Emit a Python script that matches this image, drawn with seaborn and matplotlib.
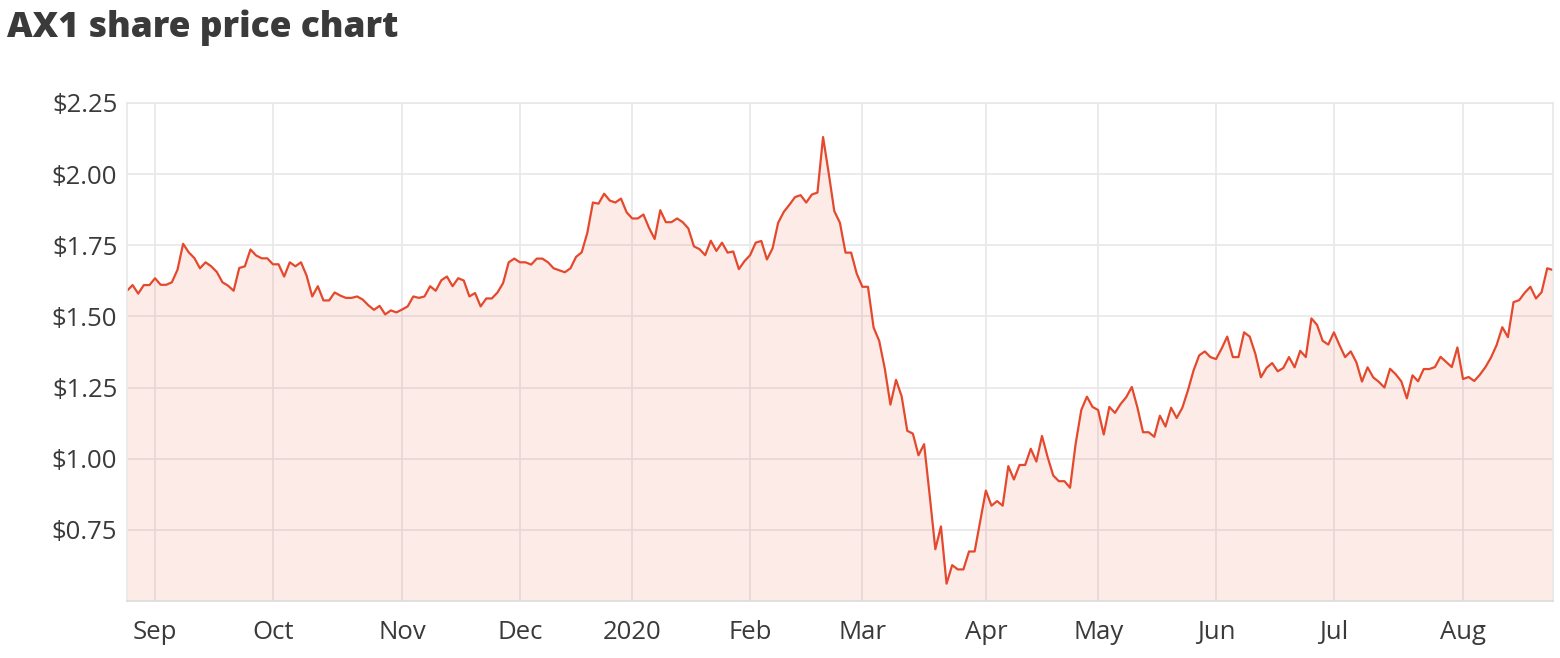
import numpy as np
import pandas as pd
import seaborn as sns
import matplotlib.pyplot as plt

# daily closing prices (AUD), one list per month, trading days only
aug19 = [1.59, 1.61, 1.58, 1.61, 1.61]
sep19 = [1.634, 1.611, 1.611, 1.62, 1.664, 1.755, 1.725, 1.705, 1.669, 1.69, 1.676,
         1.656, 1.62, 1.608, 1.59, 1.67, 1.676, 1.735, 1.714, 1.704, 1.704]
oct19 = [1.683, 1.683, 1.64, 1.69, 1.676, 1.69, 1.643, 1.57, 1.606, 1.556, 1.556, 1.584,
         1.573, 1.565, 1.565, 1.57, 1.559, 1.539, 1.523, 1.537, 1.507, 1.521, 1.514]
nov19 = [1.524, 1.535, 1.57, 1.565, 1.57, 1.606, 1.59, 1.627, 1.64, 1.606, 1.634,
         1.626, 1.57, 1.582, 1.535, 1.563, 1.563, 1.584, 1.617, 1.69, 1.703]
dec19 = [1.69, 1.69, 1.682, 1.703, 1.703, 1.69, 1.669, 1.662, 1.655, 1.669,
         1.709, 1.725, 1.793, 1.90, 1.896, 1.931, 1.907, 1.90, 1.914, 1.866]
jan20 = [1.844, 1.844, 1.858, 1.811, 1.772, 1.873, 1.831, 1.831, 1.844, 1.831, 1.809,
         1.746, 1.736, 1.715, 1.766, 1.73, 1.759, 1.724, 1.728, 1.666, 1.694]
feb20 = [1.715, 1.759, 1.765, 1.70, 1.739, 1.829, 1.867, 1.892, 1.919, 1.926,
         1.90, 1.928, 1.935, 2.13, 2.004, 1.87, 1.829, 1.724, 1.724, 1.65]
mar20 = [1.604, 1.604, 1.461, 1.414, 1.316, 1.19, 1.277, 1.219, 1.098, 1.088, 1.012,
         1.051, 0.87, 0.682, 0.762, 0.561, 0.626, 0.611, 0.611, 0.674, 0.674, 0.782]
apr20 = [0.888, 0.835, 0.851, 0.835, 0.974, 0.927, 0.978, 0.978, 1.035, 0.99,
         1.08, 1.006, 0.941, 0.921, 0.921, 0.898, 1.053, 1.171, 1.218, 1.182]
may20 = [1.171, 1.085, 1.182, 1.161, 1.192, 1.216, 1.252, 1.18, 1.093, 1.093, 1.077,
         1.151, 1.113, 1.179, 1.143, 1.179, 1.24, 1.31, 1.363, 1.377, 1.357]
jun20 = [1.35, 1.387, 1.429, 1.357, 1.357, 1.444, 1.429, 1.369, 1.286, 1.319, 1.336,
         1.307, 1.319, 1.357, 1.321, 1.379, 1.357, 1.493, 1.47, 1.414, 1.401]
jul20 = [1.444, 1.399, 1.357, 1.377, 1.339, 1.271, 1.321, 1.286, 1.27, 1.25, 1.316, 1.297,
         1.272, 1.212, 1.293, 1.272, 1.315, 1.315, 1.322, 1.358, 1.34, 1.322, 1.391]
aug20 = [1.28, 1.287, 1.273, 1.295, 1.322, 1.356, 1.40, 1.462, 1.427, 1.55, 1.557,
         1.583, 1.604, 1.563, 1.585, 1.669, 1.663]

month_labels = ["Sep", "Oct", "Nov", "Dec", "2020", "Feb", "Mar", "Apr",
                "May", "Jun", "Jul", "Aug"]
months = [sep19, oct19, nov19, dec19, jan20, feb20, mar20, apr20,
          may20, jun20, jul20, aug20]
price_ticks = [0.75, 1.00, 1.25, 1.50, 1.75, 2.00, 2.25]

price = aug19 + sum(months, [])
df = pd.DataFrame({"day": np.arange(len(price)), "price": price})
month_starts = np.cumsum([len(aug19)] + [len(m) for m in months[:-1]])

RED = "#e5492d"
TXT = "#3a3a3a"

sns.set_theme(style="whitegrid")
plt.rcParams["font.family"] = ["Open Sans", "DejaVu Sans"]

fig = plt.figure(figsize=(15.6, 6.58), dpi=100)
ax = fig.add_axes([0.0814, 0.0866, 0.914, 0.757])

sns.lineplot(data=df, x="day", y="price", color=RED, lw=1.6, ax=ax)
ax.fill_between(df["day"], df["price"], 0.5, color=RED, alpha=0.11, lw=0)

ax.set_xlim(0, len(price) - 1)
ax.set_ylim(0.5, 2.25)
ax.set_yticks(price_ticks, [f"${v:.2f}" for v in price_ticks])
ax.set_xticks(month_starts, month_labels)
ax.set_xlabel("")
ax.set_ylabel("")
ax.tick_params(axis="both", length=0, labelsize=18.5, colors=TXT)
ax.tick_params(axis="y", pad=7)
ax.tick_params(axis="x", pad=14)
ax.grid(True, color="#e8e8e8", lw=1.2)
for s in ax.spines.values():
    s.set_color("#e8e8e8")
    s.set_linewidth(1.2)
ax.spines["bottom"].set_color("#dcdcdc")

fig.text(0.0045, 0.9433, "AX1 share price chart", fontsize=25.5,
         fontweight="heavy", color=TXT, va="baseline", ha="left")

fig.savefig("out.png", dpi=100)
